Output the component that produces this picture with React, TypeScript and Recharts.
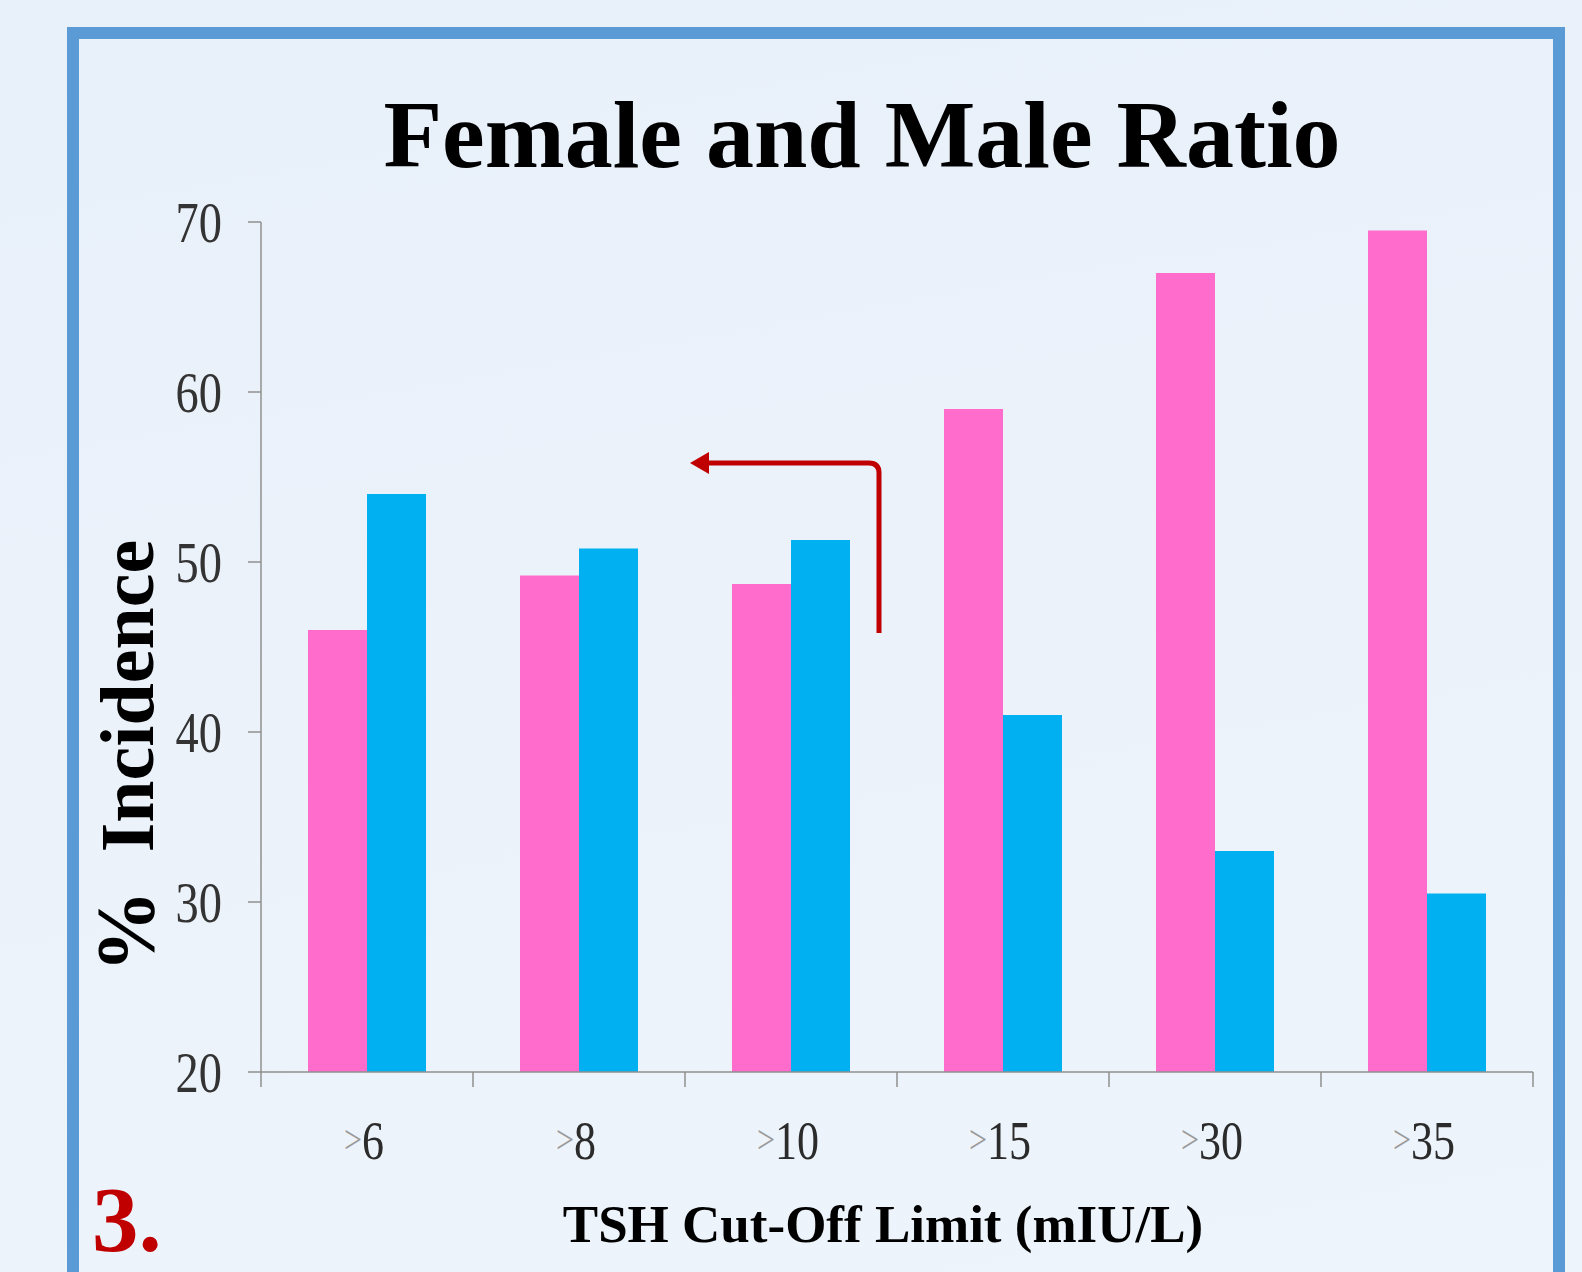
import React from "react";
import { BarChart, Bar, XAxis, YAxis } from "recharts";

const categories = [">6", ">8", ">10", ">15", ">30", ">35"];
const female = [46, 49.2, 48.7, 59, 67, 69.5];
const male = [54, 50.8, 51.3, 41, 33, 30.5];
const yTicks = [20, 30, 40, 50, 60, 70];

const data = categories.map((c, i) => ({ cut: c, female: female[i], male: male[i] }));

const W = 1582;
const H = 1272;
const Y_AXIS_W = 261;
const X_AXIS_H = 200;
const M_TOP = 222;
const M_RIGHT = 49;
const PLOT_BOTTOM = H - X_AXIS_H;
const BAND = (W - Y_AXIS_W - M_RIGHT) / categories.length;

const serif = '"Liberation Serif", "Times New Roman", serif';
const axisGray = "#8f8f8f";

function YTick({ x, y, payload }: any) {
  return (
    <g transform={`translate(${x - 24}, ${y}) scale(0.8, 1)`}>
      <text
        x={0}
        y={0}
        textAnchor="end"
        dominantBaseline="central"
        fontFamily={serif}
        fontSize={58}
        fill="#333"
      >
        {payload.value}
      </text>
    </g>
  );
}

function XTick({ x, payload, index }: any) {
  const label = String(payload.value);
  const yb = PLOT_BOTTOM;
  return (
    <g>
      <line x1={x - BAND / 2} x2={x - BAND / 2} y1={yb} y2={yb + 15} stroke={axisGray} strokeWidth={1.5} />
      {index === categories.length - 1 && (
        <line x1={x + BAND / 2} x2={x + BAND / 2} y1={yb} y2={yb + 15} stroke={axisGray} strokeWidth={1.5} />
      )}
      <g transform={`translate(${x - 3}, ${yb + 68}) scale(0.8, 1)`}>
        <text x={0} y={0} textAnchor="middle" dominantBaseline="central" fontFamily={serif} fontSize={55}>
          <tspan fill="#9a9a9a" fontSize={40}>&gt;</tspan>
          <tspan fill="#2b2b2b">{label.slice(1)}</tspan>
        </text>
      </g>
    </g>
  );
}

export default function App() {
  return (
    <div
      style={{
        position: "absolute",
        left: 0,
        top: 0,
        width: W,
        height: H,
        overflow: "hidden",
        background: "linear-gradient(170deg, #e8f0f9 0%, #ebf2fa 50%, #eef4fb 100%)",
      }}
    >
      <div
        style={{
          position: "absolute",
          left: 67,
          top: 27,
          width: 1498,
          height: 1320,
          boxSizing: "border-box",
          border: "12px solid #5b9bd5",
        }}
      />
      <div style={{ position: "absolute", left: 0, top: 0 }}>
        <BarChart
          width={W}
          height={H}
          data={data}
          margin={{ top: M_TOP, right: M_RIGHT, left: 0, bottom: 0 }}
          barGap={0}
          barSize={59}
        >
          <XAxis
            dataKey="cut"
            height={X_AXIS_H}
            interval={0}
            tickLine={false}
            axisLine={{ stroke: axisGray, strokeWidth: 1.5 }}
            tick={<XTick />}
          />
          <YAxis
            width={Y_AXIS_W}
            domain={[20, 70]}
            ticks={yTicks}
            tickSize={13}
            tickLine={{ stroke: axisGray, strokeWidth: 1.5 }}
            axisLine={{ stroke: axisGray, strokeWidth: 1.5 }}
            tick={<YTick />}
          />
          <Bar dataKey="female" fill="#ff6ccb" isAnimationActive={false} />
          <Bar dataKey="male" fill="#00b0f0" isAnimationActive={false} />
        </BarChart>
      </div>
      <svg
        width={W}
        height={H}
        style={{ position: "absolute", left: 0, top: 0, pointerEvents: "none" }}
      >
        <text x={862} y={167} textAnchor="middle" fontFamily={serif} fontWeight="bold" fontSize={96} fill="#000">
          Female and Male Ratio
        </text>
        <text
          transform="translate(153, 756) rotate(-90)"
          x={0}
          y={0}
          textAnchor="middle"
          fontFamily={serif}
          fontWeight="bold"
          fontSize={76}
          fill="#000"
        >
          <tspan fontSize={82}>%</tspan>
          <tspan>{"\u00a0\u00a0Incidence"}</tspan>
        </text>
        <text x={883} y={1242} textAnchor="middle" fontFamily={serif} fontWeight="bold" fontSize={53} fill="#000">
          TSH Cut-Off Limit (mIU/L)
        </text>
        <text x={92} y={1251} fontFamily={serif} fontWeight="bold" fontSize={93} fill="#c00000">
          3.
        </text>
        <path
          d="M 879 633 L 879 473 Q 879 463 869 463 L 704 463"
          fill="none"
          stroke="#c00000"
          strokeWidth={5}
        />
        <path d="M 690 463 L 709 452 L 709 474 Z" fill="#c00000" />
      </svg>
    </div>
  );
}
